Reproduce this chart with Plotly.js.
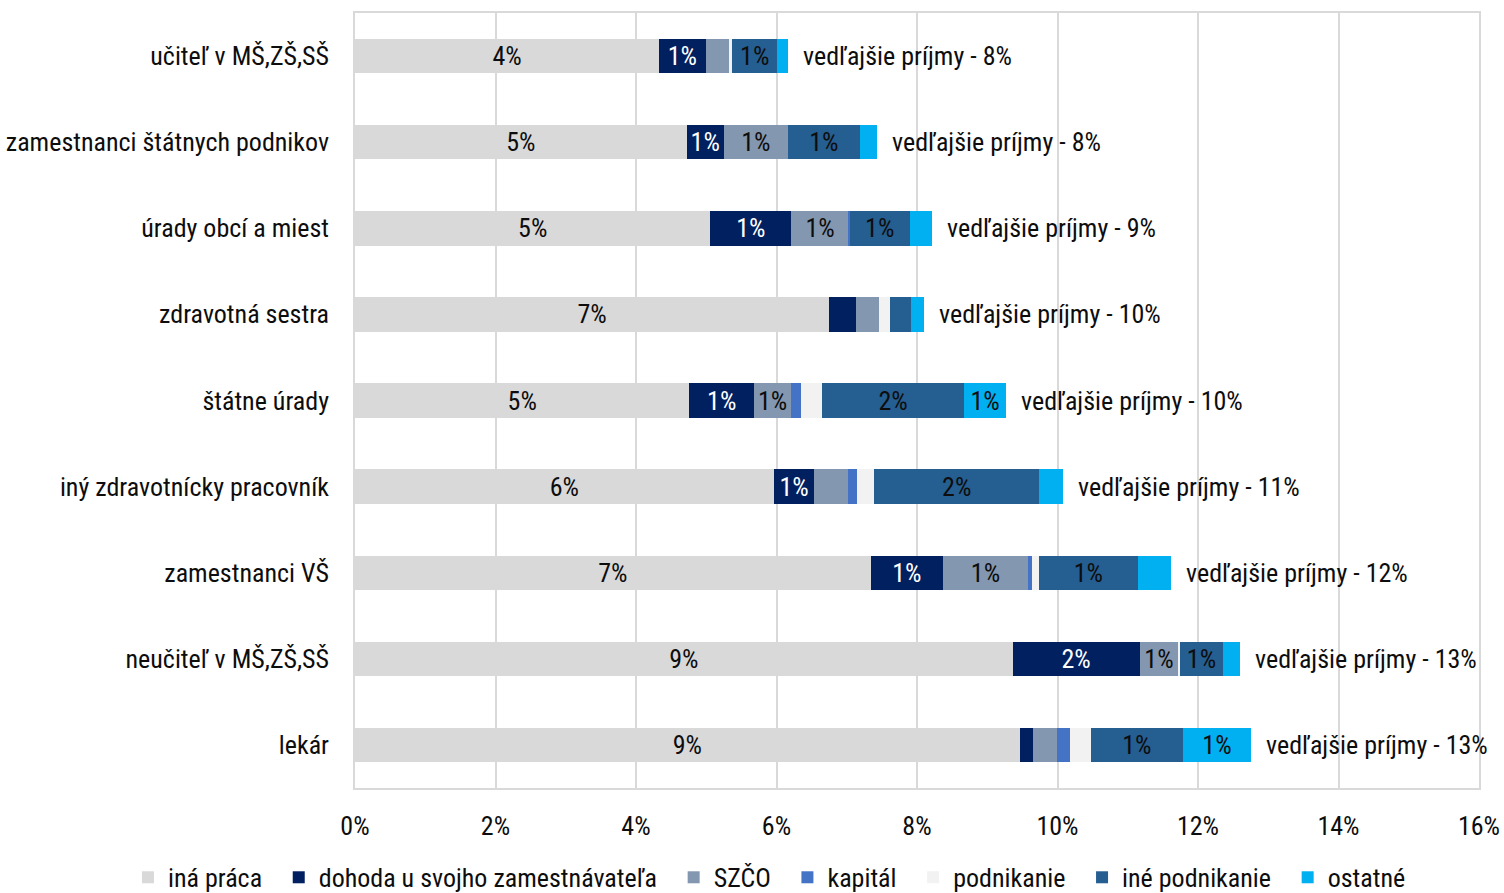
<!DOCTYPE html>
<html>
<head>
<meta charset="utf-8">
<script src="https://cdn.plot.ly/plotly-3.0.1.min.js"></script>
<style>html,body{margin:0;padding:0;background:#fff;}#chart{width:1504px;height:893px;}</style>
</head>
<body>
<div id="chart"></div>
<script>
const categories = ["učiteľ v MŠ,ZŠ,SŠ","zamestnanci štátnych podnikov","úrady obcí a miest","zdravotná sestra","štátne úrady","iný zdravotnícky pracovník","zamestnanci VŠ","neučiteľ v MŠ,ZŠ,SŠ","lekár"];
const inaPraca      = [4.33, 4.72, 5.06, 6.75, 4.76, 5.96, 7.34, 9.36, 9.46];
const dohoda        = [0.66, 0.53, 1.15, 0.38, 0.92, 0.58, 1.03, 1.81, 0.19];
const szco          = [0.33, 0.91, 0.82, 0.33, 0.53, 0.48, 1.21, 0.55, 0.34];
const kapital       = [0.00, 0.00, 0.01, 0.00, 0.14, 0.13, 0.05, 0.00, 0.19];
const podnikanie    = [0.05, 0.00, 0.00, 0.16, 0.30, 0.24, 0.10, 0.03, 0.30];
const inePodnikanie = [0.64, 1.03, 0.86, 0.29, 2.02, 2.35, 1.42, 0.60, 1.30];
const ostatne       = [0.15, 0.24, 0.31, 0.19, 0.60, 0.34, 0.47, 0.25, 0.98];
const totalLabels   = ["vedľajšie príjmy - 8%","vedľajšie príjmy - 8%","vedľajšie príjmy - 9%","vedľajšie príjmy - 10%","vedľajšie príjmy - 10%","vedľajšie príjmy - 11%","vedľajšie príjmy - 12%","vedľajšie príjmy - 13%","vedľajšie príjmy - 13%"];
const seriesNames   = ["iná práca","dohoda u svojho zamestnávateľa","SZČO","kapitál","podnikanie","iné podnikanie","ostatné"];
const xTicks        = [0, 2, 4, 6, 8, 10, 12, 14, 16];

const FONT = "'Liberation Sans Narrow', 'Arial Narrow', 'Roboto Condensed', sans-serif";
const FS = 26;
const TXT = '#0d0d0d';
const seriesData = [inaPraca, dohoda, szco, kapital, podnikanie, inePodnikanie, ostatne];
const colors = ["#D9D9D9","#002060","#8497B0","#4472C4","#F2F2F2","#255E91","#00B0F0"];
const textColors = [TXT,"#ffffff",TXT,"#ffffff",TXT,TXT,TXT];

const traces = seriesData.map((vals, i) => ({
  type: 'bar',
  orientation: 'h',
  name: seriesNames[i] + (i < seriesNames.length - 1 ? '\u2002' : ''),
  y: categories,
  x: vals,
  marker: {color: colors[i], line: {width: 0}},
  text: vals.map(v => v >= 0.5 ? Math.round(v) + '%' : ''),
  textposition: 'inside',
  insidetextanchor: 'middle',
  textangle: 0,
  constraintext: 'none',
  textfont: {family: FONT, size: FS, color: textColors[i]},
  hoverinfo: 'x+name'
}));

const totals = categories.map((c, j) => seriesData.reduce((s, arr) => s + arr[j], 0));
const annotations = categories.map((c, j) => ({
  x: totals[j], y: c, xref: 'x', yref: 'y',
  text: totalLabels[j], showarrow: false,
  xanchor: 'left', xshift: 13,
  font: {family: FONT, size: FS, color: TXT}
}));

const layout = {
  width: 1504, height: 893,
  margin: {l: 355, r: 25, t: 13, b: 105, autoexpand: false},
  barmode: 'stack',
  bargap: 0.6,
  paper_bgcolor: '#fff', plot_bgcolor: '#fff',
  font: {family: FONT, size: FS, color: TXT},
  showlegend: true,
  legend: {orientation: 'h', x: -0.202, xanchor: 'left', y: -0.085, yanchor: 'top',
           font: {family: FONT, size: FS, color: TXT}, traceorder: 'normal', itemclick: false},
  xaxis: {range: [0, 16], tickvals: xTicks, ticktext: xTicks.map(v => v + '%'),
          showgrid: true, gridcolor: '#D9D9D9', gridwidth: 1.5, zeroline: false,
          showline: true, linecolor: '#D9D9D9', linewidth: 1.5, mirror: true,
          ticks: '', ticklen: 0, ticklabelstandoff: 14,
          tickfont: {family: FONT, size: FS, color: TXT}, fixedrange: true},
  yaxis: {categoryorder: 'array', categoryarray: categories, autorange: 'reversed',
          showgrid: false, zeroline: false, showline: true, linecolor: '#D9D9D9', linewidth: 1.5, mirror: true,
          ticks: '', ticklabelstandoff: 19, tickfont: {family: FONT, size: FS, color: TXT}, fixedrange: true},
  annotations: annotations
};

Plotly.newPlot('chart', traces, layout, {displayModeBar: false});
</script>
</body>
</html>
